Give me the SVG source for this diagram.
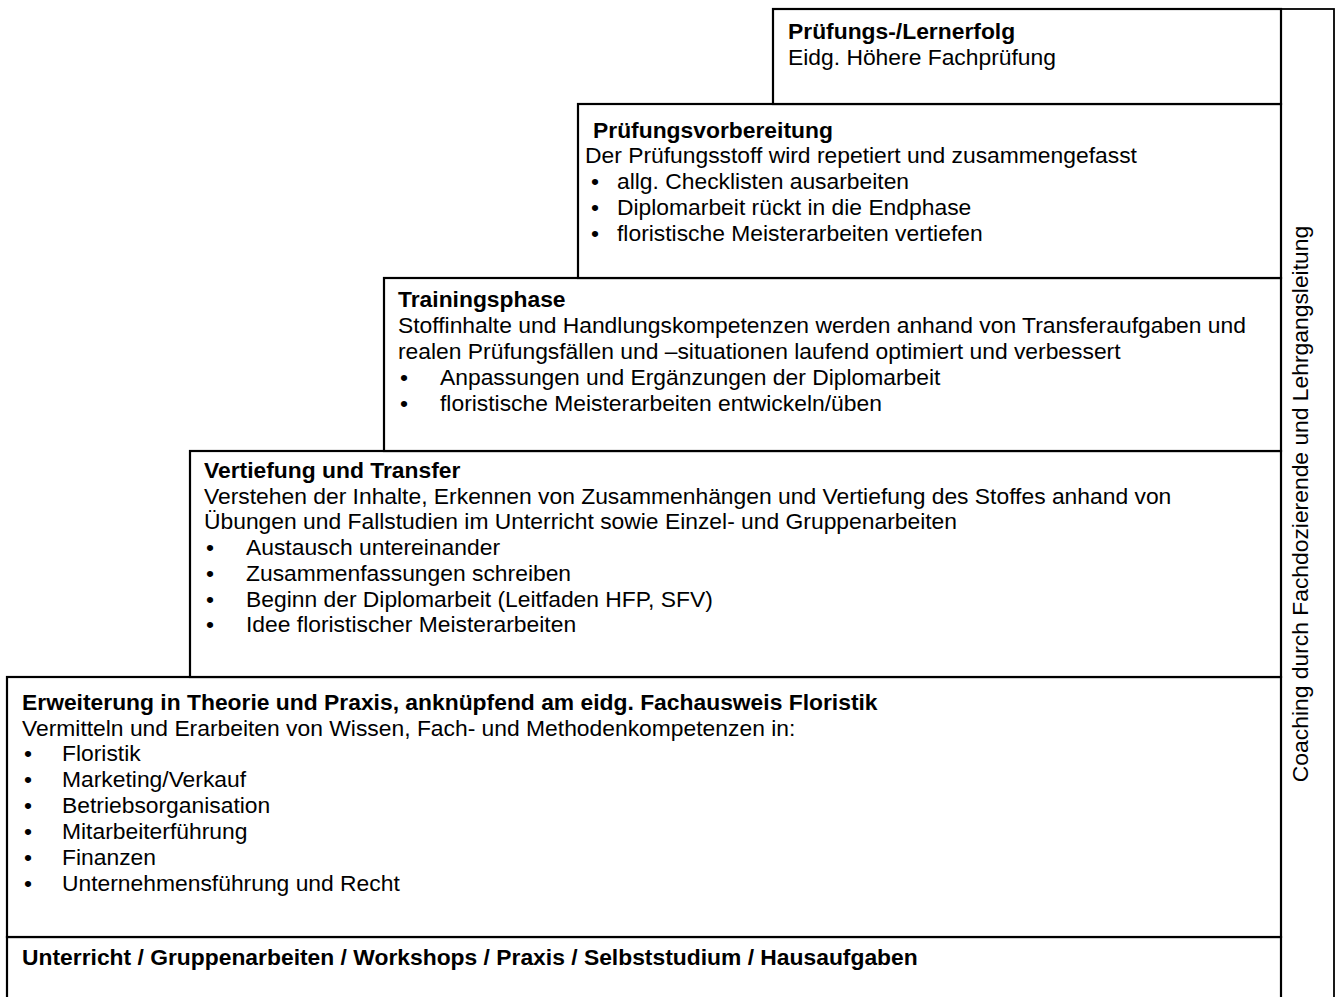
<svg xmlns="http://www.w3.org/2000/svg" width="1342" height="997" viewBox="0 0 1342 997">
<style>
.box{fill:#fff;stroke:#000;stroke-width:2.2}
.col{fill:#fff;stroke:#000;stroke-width:1.8}
text{font-family:"Liberation Sans",Arial,sans-serif;font-size:22.85px;fill:#000}
.b{font-weight:bold}
</style>
<rect width="1342" height="997" fill="#fff"/>
<g id="coaching">
<rect class="col" x="1281" y="9" width="53" height="995"/>
<text transform="translate(1308,504) rotate(-90)" text-anchor="middle">Coaching durch Fachdozierende und Lehrgangsleitung</text>
</g>
<g id="unterricht">
<rect class="box" x="7" y="937" width="1274" height="70"/>
<text class="b" x="22" y="965">Unterricht / Gruppenarbeiten / Workshops / Praxis / Selbststudium / Hausaufgaben</text>
</g>
<g id="erweiterung">
<rect class="box" x="7" y="677" width="1274" height="260"/>
<text class="b" x="22" y="710">Erweiterung in Theorie und Praxis, anknüpfend am eidg. Fachausweis Floristik</text>
<text x="22" y="736">Vermitteln und Erarbeiten von Wissen, Fach- und Methodenkompetenzen in:</text>
<text x="24" y="761">•</text><text x="62" y="761">Floristik</text>
<text x="24" y="787">•</text><text x="62" y="787">Marketing/Verkauf</text>
<text x="24" y="813">•</text><text x="62" y="813">Betriebsorganisation</text>
<text x="24" y="839">•</text><text x="62" y="839">Mitarbeiterführung</text>
<text x="24" y="865">•</text><text x="62" y="865">Finanzen</text>
<text x="24" y="891">•</text><text x="62" y="891">Unternehmensführung und Recht</text>
</g>
<g id="vertiefung">
<rect class="box" x="190" y="451" width="1091" height="226"/>
<text class="b" x="204" y="478">Vertiefung und Transfer</text>
<text x="204" y="504">Verstehen der Inhalte, Erkennen von Zusammenhängen und Vertiefung des Stoffes anhand von</text>
<text x="204" y="529">Übungen und Fallstudien im Unterricht sowie Einzel- und Gruppenarbeiten</text>
<text x="206" y="555">•</text><text x="246" y="555">Austausch untereinander</text>
<text x="206" y="581">•</text><text x="246" y="581">Zusammenfassungen schreiben</text>
<text x="206" y="607">•</text><text x="246" y="607">Beginn der Diplomarbeit (Leitfaden HFP, SFV)</text>
<text x="206" y="632">•</text><text x="246" y="632">Idee floristischer Meisterarbeiten</text>
</g>
<g id="training">
<rect class="box" x="384" y="278" width="897" height="173"/>
<text class="b" x="398" y="307">Trainingsphase</text>
<text x="398" y="333">Stoffinhalte und Handlungskompetenzen werden anhand von Transferaufgaben und</text>
<text x="398" y="359">realen Prüfungsfällen und –situationen laufend optimiert und verbessert</text>
<text x="400" y="385">•</text><text x="440" y="385">Anpassungen und Ergänzungen der Diplomarbeit</text>
<text x="400" y="411">•</text><text x="440" y="411">floristische Meisterarbeiten entwickeln/üben</text>
</g>
<g id="vorbereitung">
<rect class="box" x="578" y="104" width="703" height="174"/>
<text class="b" x="593" y="138">Prüfungsvorbereitung</text>
<text x="585" y="163">Der Prüfungsstoff wird repetiert und zusammengefasst</text>
<text x="591" y="189">•</text><text x="617" y="189">allg. Checklisten ausarbeiten</text>
<text x="591" y="215">•</text><text x="617" y="215">Diplomarbeit rückt in die Endphase</text>
<text x="591" y="241">•</text><text x="617" y="241">floristische Meisterarbeiten vertiefen</text>
</g>
<g id="erfolg">
<rect class="box" x="773" y="9" width="508" height="95"/>
<text class="b" x="788" y="39">Prüfungs-/Lernerfolg</text>
<text x="788" y="65">Eidg. Höhere Fachprüfung</text>
</g>
<g id="connectors"></g>
</svg>
